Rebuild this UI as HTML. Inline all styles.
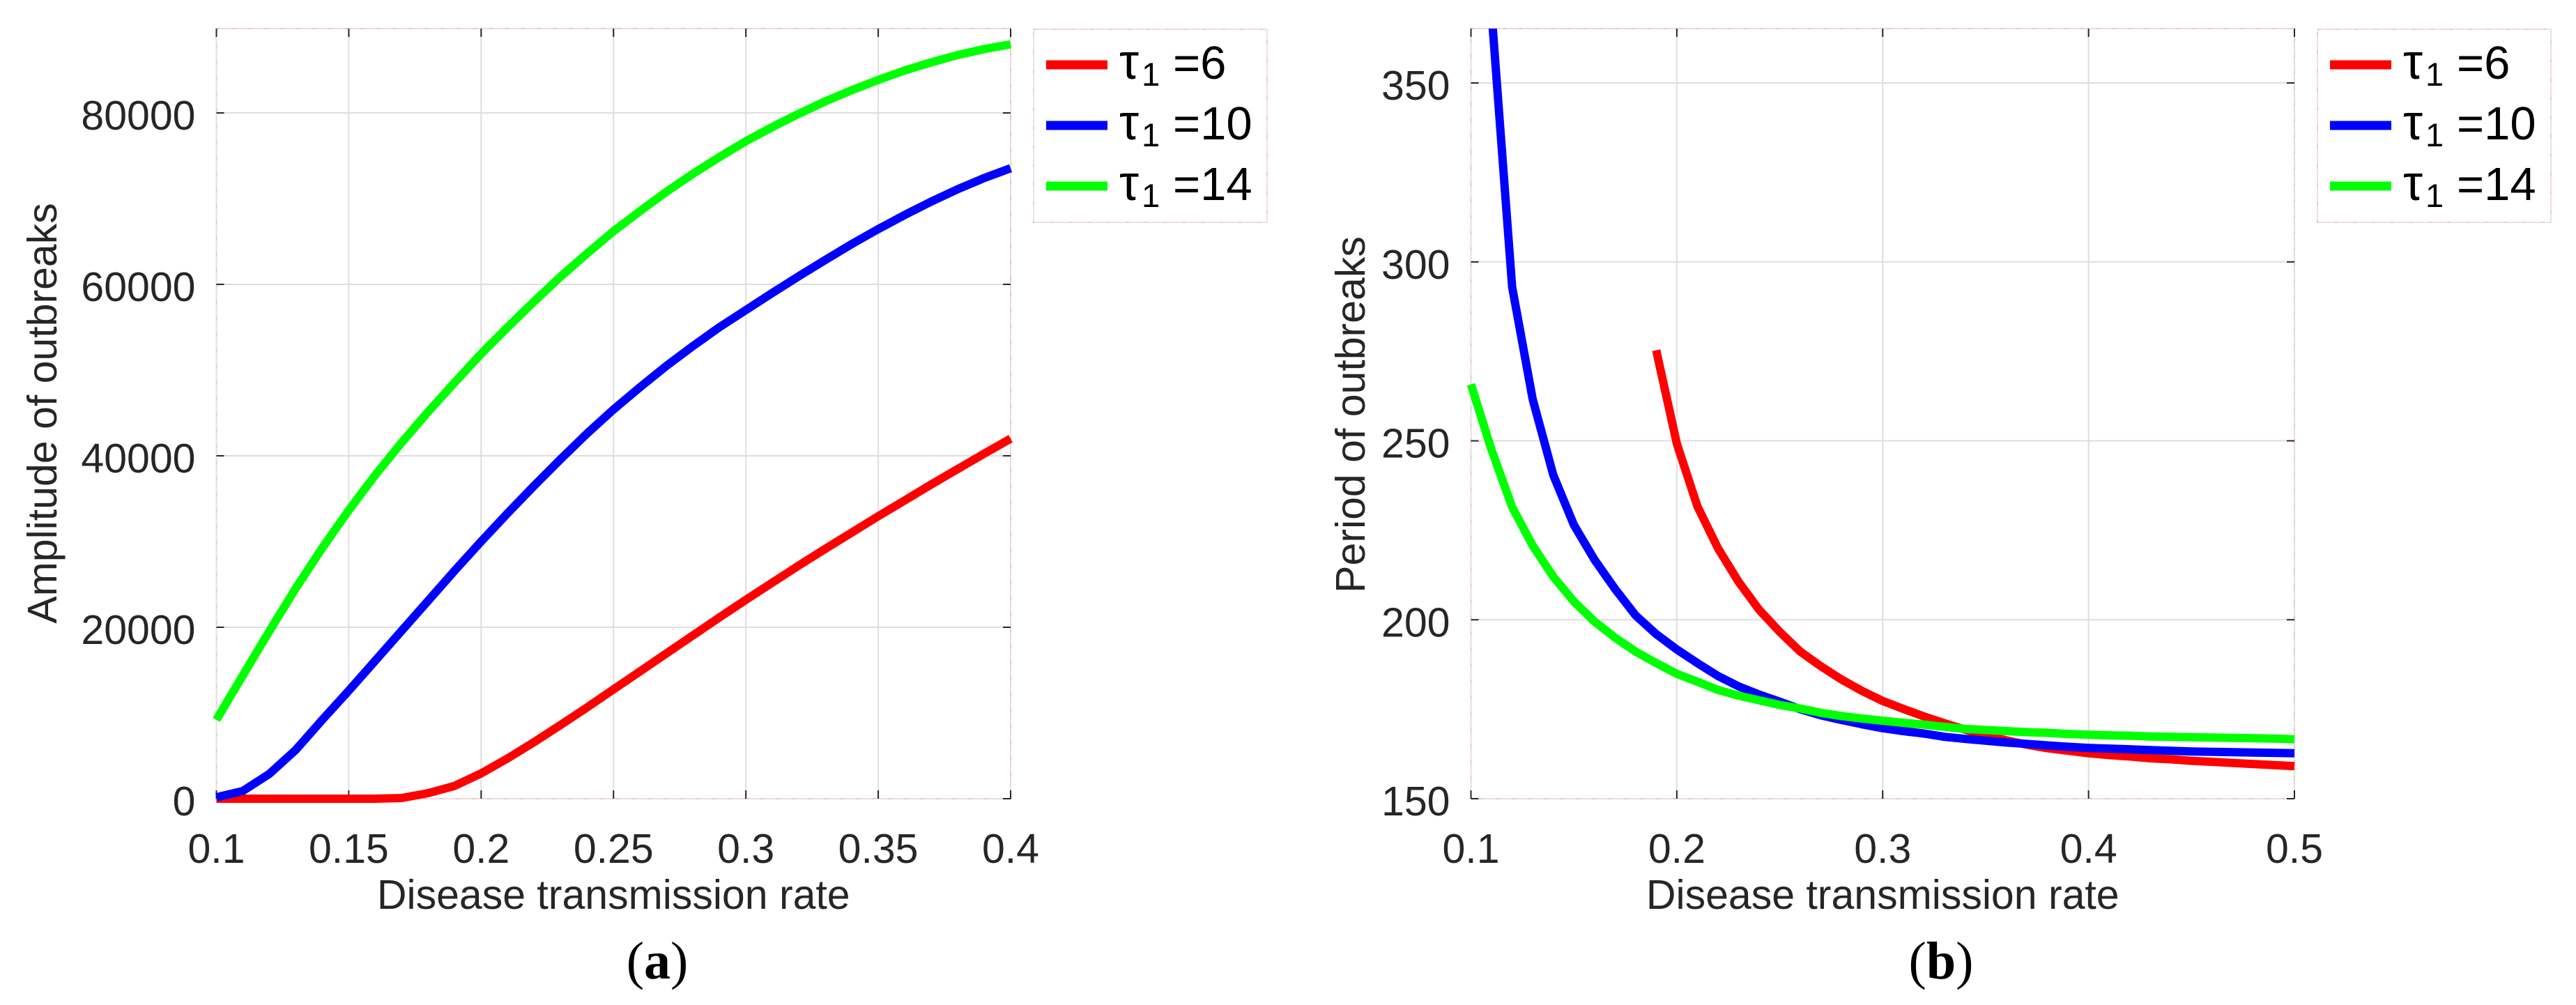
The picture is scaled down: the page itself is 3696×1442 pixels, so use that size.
<!DOCTYPE html>
<html lang="en">
<head>
<meta charset="utf-8">
<title>Amplitude and period of outbreaks</title>
<style>
html,body{margin:0;padding:0;background:#fff;}
svg{display:block;}
text{font-family:"Liberation Sans",sans-serif;}
.tick{font-size:59px;fill:#262626;}
.label{font-size:59px;fill:#262626;}
.leg{font-size:67px;fill:#000;}
.tau{font-size:71px;fill:#000;}
.sub{font-size:47px;fill:#000;}
.cap{font-family:"Liberation Serif",serif;font-size:76px;fill:#000;}
</style>
</head>
<body>
<svg id="fig" xmlns="http://www.w3.org/2000/svg" width="3696" height="1442" viewBox="0 0 3696 1442"></svg>
<script>
// Panel (a) data
const xTicksA = [0.1, 0.15, 0.2, 0.25, 0.3, 0.35, 0.4];
const xTickLabelsA = ["0.1", "0.15", "0.2", "0.25", "0.3", "0.35", "0.4"];
const yTicksA = [0, 20000, 40000, 60000, 80000];
const yTickLabelsA = ["0", "20000", "40000", "60000", "80000"];
const xA = [0.10,0.11,0.12,0.13,0.14,0.15,0.16,0.17,0.18,0.19,0.20,0.21,0.22,0.23,0.24,0.25,0.26,0.27,0.28,0.29,0.30,0.31,0.32,0.33,0.34,0.35,0.36,0.37,0.38,0.39,0.40];
const redA = [0,0,0,0,0,0,0,80,650,1500,2950,4700,6600,8600,10650,12750,14850,16950,19050,21150,23200,25200,27200,29150,31050,32950,34800,36650,38450,40250,42000];
const blueA = [160,900,2900,5700,9200,12600,16100,19600,23100,26600,30000,33300,36500,39600,42600,45400,48000,50500,52800,55000,57000,59000,60950,62850,64700,66450,68100,69650,71100,72400,73550];
const greenA = [9200,14400,19550,24550,29250,33650,37750,41550,45150,48550,51900,55000,58000,60900,63600,66200,68550,70800,72900,74850,76700,78350,79900,81350,82650,83850,84950,85900,86750,87450,88000];

// Panel (b) data
const xTicksB = [0.1, 0.2, 0.3, 0.4, 0.5];
const xTickLabelsB = ["0.1", "0.2", "0.3", "0.4", "0.5"];
const yTicksB = [150, 200, 250, 300, 350];
const yTickLabelsB = ["150", "200", "250", "300", "350"];
const xB = [0.10,0.11,0.12,0.13,0.14,0.15,0.16,0.17,0.18,0.19,0.20,0.21,0.22,0.23,0.24,0.25,0.26,0.27,0.28,0.29,0.30,0.31,0.32,0.33,0.34,0.35,0.36,0.37,0.38,0.39,0.40,0.41,0.42,0.43,0.44,0.45,0.46,0.47,0.48,0.49,0.50];
const redB = [null,null,null,null,null,null,null,null,null,275.3,249.2,231.7,220,210.6,202.8,196.6,191.1,187,183.3,180.1,177.3,175.1,173,171.1,169.3,167.8,166.3,165.1,164.1,163.4,162.7,162.2,161.8,161.3,161,160.6,160.3,160,159.7,159.4,159.1];
const blueB = [null,370,293,261.6,240.4,226.5,216.8,208.6,201.2,196,191.7,187.9,184.3,181.4,179.1,177.1,175,173.3,172,170.8,169.7,168.9,168.2,167.3,166.7,166.2,165.7,165.3,164.9,164.5,164.2,164,163.8,163.6,163.4,163.2,163.1,163,162.9,162.8,162.7];
const greenB = [265.8,247.5,231.5,220.7,212,205.1,199.5,195,191.1,187.9,184.9,182.7,180.4,178.8,177.5,176.2,175.2,174,173.1,172.4,171.8,171.2,170.7,170.1,169.5,169.2,168.9,168.6,168.4,168.1,167.9,167.7,167.6,167.4,167.3,167.2,167.1,167,166.9,166.8,166.6];

const legendLabels = ["6", "10", "14"];

const NS = "http://www.w3.org/2000/svg";
const fig = document.getElementById("fig");

function make(tag, attrs, parent, txt) {
  const el = document.createElementNS(NS, tag);
  for (const k in attrs) el.setAttribute(k, attrs[k]);
  if (txt !== undefined) el.textContent = txt;
  parent.appendChild(el);
  return el;
}

function linePath(xs, ys, xS, yS) {
  let s = "";
  xs.forEach((x, i) => {
    if (ys[i] === null) return;
    s += (s ? "L" : "M") + xS(x).toFixed(1) + " " + yS(ys[i]).toFixed(1);
  });
  return s;
}

function drawPanel(cfg) {
  const g = make("g", {}, fig);
  
  
  const L = cfg.left, R = cfg.right, T = 41, B = 1146;
  const xS = v => L + (v - cfg.xMin) / (cfg.xMax - cfg.xMin) * (R - L);
  const yS = v => B - (v - cfg.yMin) / (cfg.yMax - cfg.yMin) * (B - T);

  const clip = make("clipPath", { id: cfg.id + "-clip" }, g);
  make("rect", { x: L - 20, y: T, width: R - L + 40, height: B - T + 20 }, clip);

  // grid
  cfg.xTicks.forEach(v => {
    const ln = make("line", { x1: xS(v), x2: xS(v), y1: T, y2: B, stroke: "#dedede", "stroke-width": 2 }, g);
    
    
  });
  cfg.yTicks.forEach(v => {
    const ln = make("line", { x1: L, x2: R, y1: yS(v), y2: yS(v), stroke: "#dedede", "stroke-width": 2 }, g);
    
    
  });

  // axis box
  const box = make("rect", { x: L, y: T, width: R - L, height: B - T, fill: "none", stroke: "#f3d8d8", "stroke-width": 2 }, g);
  
  
  make("rect", { x: L, y: T, width: R - L, height: B - T, fill: "none", stroke: "#c9d2d2", "stroke-width": 2, "stroke-dasharray": "5 18" }, g);

  // ticks
  cfg.xTicks.forEach((v, i) => {
    const a = make("line", { x1: xS(v), x2: xS(v), y1: T, y2: T + 12, stroke: "#262626", "stroke-width": 2 }, g);
    
    
    const b = make("line", { x1: xS(v), x2: xS(v), y1: B - 12, y2: B, stroke: "#262626", "stroke-width": 2 }, g);
    
    
    const t = make("text", { x: xS(v), y: 1238, "text-anchor": "middle", class: "tick" }, g, cfg.xTickLabels[i]);
    
    
  });
  cfg.yTicks.forEach((v, i) => {
    const a = make("line", { x1: L, x2: L + 11, y1: yS(v), y2: yS(v), stroke: "#262626", "stroke-width": 2 }, g);
    
    
    const b = make("line", { x1: R - 11, x2: R, y1: yS(v), y2: yS(v), stroke: "#262626", "stroke-width": 2 }, g);
    
    
    const t = make("text", { x: L - 30, y: yS(v) + 24, "text-anchor": "end", class: "tick" }, g, cfg.yTickLabels[i]);
    
    
  });

  // series
  const seriesNames = ["series-tau-6", "series-tau-10", "series-tau-14"];
  cfg.series.forEach((s, i) => {
    const p = make("path", {
      d: linePath(cfg.x, s.y, xS, yS),
      fill: "none", stroke: s.color, "stroke-width": 12,
      "stroke-linejoin": "round", "clip-path": "url(#" + cfg.id + "-clip)"
    }, g);
    
    
  });

  // axis titles
  const xt = make("text", { x: (L + R) / 2, y: 1304, "text-anchor": "middle", class: "label" }, g, "Disease transmission rate");
  
  
  const yt = make("text", { x: 0, y: 0, "text-anchor": "middle", class: "label",
    transform: "translate(" + cfg.yTitleX + " " + cfg.yTitleY + ") rotate(-90)" }, g, cfg.yTitle);
  
  

  // caption
  const cap = make("text", { x: cfg.capX, y: 1404, "text-anchor": "middle", class: "cap" }, g);
  
  
  make("tspan", {}, cap, "(");
  make("tspan", { "font-weight": "bold" }, cap, cfg.capLetter);
  make("tspan", {}, cap, ")");

  // legend
  const lx = cfg.legendX;
  const lg = make("g", {}, g);
  
  
  make("rect", { x: lx, y: 42, width: 335, height: 277, fill: "#fff", stroke: "#f6dede", "stroke-width": 2 }, lg);
  make("rect", { x: lx, y: 42, width: 335, height: 277, fill: "none", stroke: "#cfd6d6", "stroke-width": 2, "stroke-dasharray": "5 22" }, lg);
  cfg.series.forEach((s, i) => {
    const cy = 93 + i * 87;
    const entry = make("g", {}, lg);
    
    
    make("rect", { x: lx + 18, y: cy - 6.5, width: 88, height: 13, fill: s.color }, entry);
    make("text", { x: lx + 123, y: cy + 20, class: "tau" }, entry, "τ");
    make("text", { x: lx + 155, y: cy + 30, class: "sub" }, entry, "1");
    make("text", { x: lx + 200, y: cy + 20, class: "leg" }, entry, "=" + legendLabels[i]);
  });
}

drawPanel({
  id: "panel-a", left: 310.5, right: 1450, xMin: 0.1, xMax: 0.4, yMin: 0, yMax: 89840,
  x: xA,
  xTicks: xTicksA, xTickLabels: xTickLabelsA, yTicks: yTicksA, yTickLabels: yTickLabelsA,
  series: [
    { y: redA, color: "#ff0000" },
    { y: blueA, color: "#0000ff" },
    { y: greenA, color: "#00ff00" }
  ],
  yTitle: "Amplitude of outbreaks", yTitleX: 81, yTitleY: 593,
  capX: 943, capLetter: "a", legendX: 1483
});

drawPanel({
  id: "panel-b", left: 2110.5, right: 3292, xMin: 0.1, xMax: 0.5, yMin: 150, yMax: 365.2,
  x: xB,
  xTicks: xTicksB, xTickLabels: xTickLabelsB, yTicks: yTicksB, yTickLabels: yTickLabelsB,
  series: [
    { y: redB, color: "#ff0000" },
    { y: blueB, color: "#0000ff" },
    { y: greenB, color: "#00ff00" }
  ],
  yTitle: "Period of outbreaks", yTitleX: 1958, yTitleY: 595,
  capX: 2785, capLetter: "b", legendX: 3325
});
</script>
</body>
</html>
